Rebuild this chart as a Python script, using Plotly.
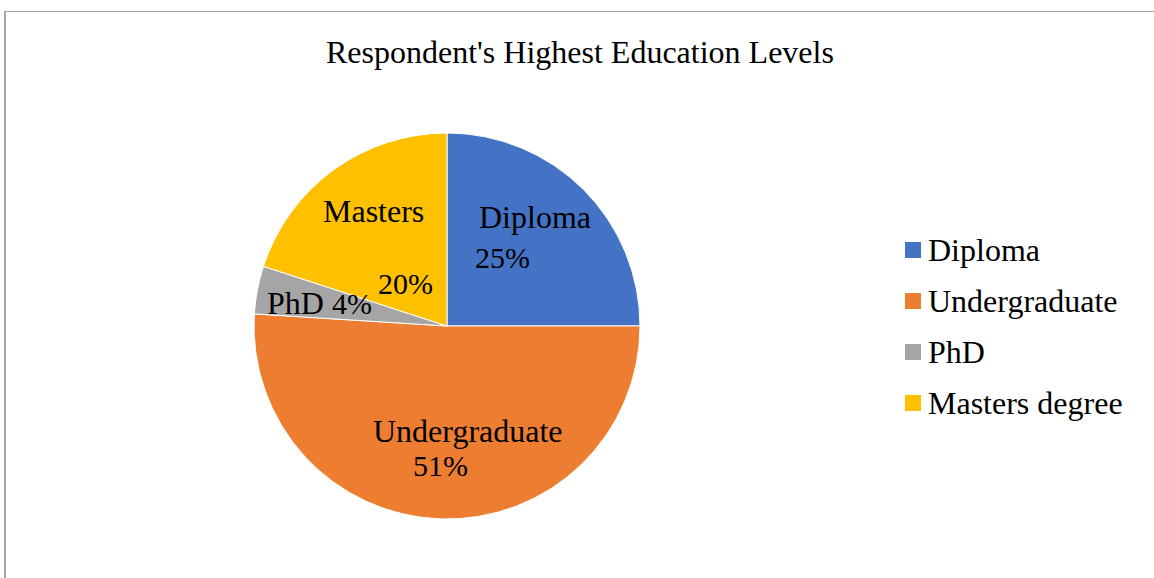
import plotly.graph_objects as go

# Data
categories = ["Diploma", "Undergraduate", "PhD", "Masters degree"]
short_labels = ["Diploma", "Undergraduate", "PhD", "Masters"]
values = [25, 51, 4, 20]
colors = ["#4472C4", "#ED7D31", "#A5A5A5", "#FFC000"]
title_text = "Respondent's Highest Education Levels"

W, H = 1154, 578
FONT = "Liberation Serif, Times New Roman, serif"
FS = 32
FS_PCT = 30

def px(x):
    return x / W

def py(y):
    return 1 - y / H

fig = go.Figure()
fig.add_trace(go.Pie(
    labels=categories,
    values=values,
    sort=False,
    direction="clockwise",
    rotation=0,
    marker=dict(colors=colors, line=dict(color="white", width=1)),
    textinfo="none",
    hoverinfo="label+percent",
    showlegend=False,
    domain=dict(x=[px(254), px(640)], y=[py(519), py(133)]),
))

ann = []
def add_text(text, x, y, xanchor="left", size=FS):
    ann.append(dict(text=text, x=px(x), y=py(y), xref="paper", yref="paper",
                    xanchor=xanchor, yanchor="middle", showarrow=False,
                    font=dict(family=FONT, size=size, color="black")))

pct = [f"{v}%" for v in values]
# Data labels (positions chosen to match the reference)
add_text(short_labels[0], 477, 217)
add_text(pct[0], 473, 257, size=FS_PCT)
add_text(short_labels[1], 468, 431, "center")
add_text(pct[1], 440, 465, "center", size=FS_PCT)
add_text(short_labels[3], 321, 211)
add_text(pct[3], 376, 283, size=FS_PCT)
add_text(f"{short_labels[2]} <span style='font-size:{FS_PCT}px'>{pct[2]}</span>", 265, 303)

# Custom legend
legend_y = [250, 301, 352, 403]
shapes = []
for cat, col, ly in zip(categories, colors, legend_y):
    shapes.append(dict(type="rect", xref="paper", yref="paper",
                       x0=px(905), x1=px(921), y0=py(ly + 8), y1=py(ly - 8),
                       fillcolor=col, line=dict(width=0)))
    add_text(cat, 926, ly)

# Title
add_text(title_text, 580, 52, "center")

# Chart border (partially visible)
shapes.append(dict(type="line", xref="paper", yref="paper",
                   x0=px(5), x1=1.01, y0=py(11.5), y1=py(11.5),
                   line=dict(color="#A6A6A6", width=1)))
shapes.append(dict(type="line", xref="paper", yref="paper",
                   x0=px(5), x1=px(5), y0=py(11), y1=-0.01,
                   line=dict(color="#A6A6A6", width=2)))

fig.update_layout(
    width=W, height=H,
    margin=dict(l=0, r=0, t=0, b=0),
    paper_bgcolor="white",
    plot_bgcolor="white",
    annotations=ann,
    shapes=shapes,
    showlegend=False,
)

fig.write_html("out.html")
